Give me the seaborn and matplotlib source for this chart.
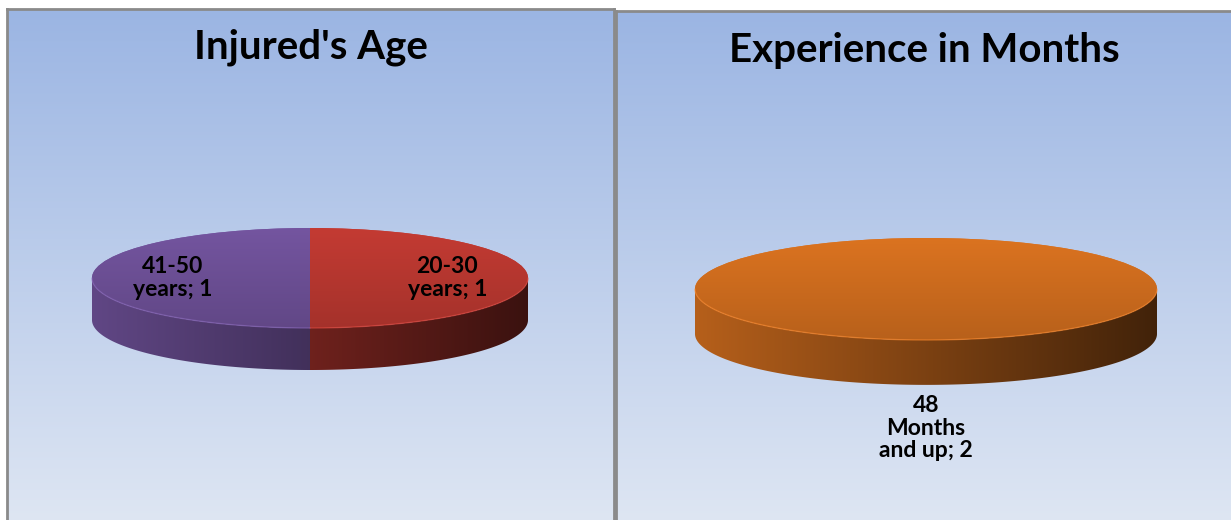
import numpy as np
import matplotlib
matplotlib.use('Agg')
import matplotlib.pyplot as plt
import seaborn as sns
from matplotlib.patches import Polygon
from matplotlib.colors import to_rgb

# ---- data ----
age_labels = ["20-30\nyears; 1", "41-50\nyears; 1"]
age_values = [1, 1]
age_colors = ["#C43B33", "#7455A0"]

exp_labels = ["48\nMonths\nand up; 2"]
exp_values = [2]
exp_colors = ["#DB7320"]

titles = ["Injured's Age", "Experience in Months"]

sns.set_theme(style="white")
plt.rcParams['font.family'] = ['Lato', 'DejaVu Sans']

W, H = 1231, 520
fig = plt.figure(figsize=(W / 100, H / 100), dpi=100)
fig.patch.set_facecolor('white')

bg_top = np.array(to_rgb('#9BB5E3'))
bg_bot = np.array(to_rgb('#DEE6F3'))


def px_axes(x0, y0, x1, y1):
    return fig.add_axes([x0 / W, 1 - y1 / H, (x1 - x0) / W, (y1 - y0) / H])


def draw_panel(rect, center, rx, ry, depth, values, labels, colors, title,
               labeldistance, title_y):
    x0, y0, x1, y1 = rect
    ax = px_axes(*rect)
    cx, cy = center
    xlim = (-(cx - x0) / rx, (x1 - cx) / rx)
    ylim = (-(y1 - cy) / ry, (cy - y0) / ry)

    wedges, texts = ax.pie(values, labels=labels, colors=colors, startangle=90,
                           counterclock=False, labeldistance=labeldistance,
                           wedgeprops=dict(linewidth=0, zorder=3),
                           textprops=dict(fontsize=16.5, fontweight='bold',
                                          color='black', zorder=8))
    ax.set_aspect('auto')
    ax.set_xlim(*xlim)
    ax.set_ylim(*ylim)
    ax.set_frame_on(True)
    ax.set_xticks([])
    ax.set_yticks([])

    # background gradient
    g = np.linspace(0, 1, 256)[:, None, None]
    img = bg_top * (1 - g) + bg_bot * g
    ax.imshow(img, extent=(xlim[0], xlim[1], ylim[0], ylim[1]), aspect='auto',
              zorder=0, origin='upper', interpolation='bilinear')

    for w, col in zip(wedges, colors):
        base = np.array(to_rgb(col))
        # top surface, vertical shading
        f = np.linspace(1.0, 0.84, 256)[:, None, None]
        timg = np.clip(base * f, 0, 1)
        im = ax.imshow(timg, extent=(-1, 1, -1, 1), aspect='auto', zorder=4,
                       origin='upper', interpolation='bilinear')
        im.set_clip_path(w)
        # side band (front-facing part)
        t1, t2 = w.theta1, w.theta2
        for k in range(-2, 3):
            a = max(t1, 360 * k - 180)
            b = min(t2, 360 * k)
            if b <= a:
                continue
            t = np.radians(np.linspace(a, b, 200))
            top = np.column_stack([np.cos(t), np.sin(t)])
            bot = np.column_stack([np.cos(t), np.sin(t) - depth])
            poly = Polygon(np.vstack([top, bot[::-1]]), closed=True,
                           facecolor='none', edgecolor='none', zorder=2)
            ax.add_patch(poly)
            fx = np.linspace(0.83, 0.30, 256)[None, :, None]
            simg = np.clip(base * fx, 0, 1)
            sim = ax.imshow(simg, extent=(-1, 1, -1 - depth, 0), aspect='auto',
                            zorder=2, origin='upper', interpolation='bilinear')
            sim.set_clip_path(poly)
            # light rim on the top's front edge
            hl = np.clip(base * 1.1 + 0.04, 0, 1)
            ax.plot(np.cos(t), np.sin(t), color=hl, lw=1.0, alpha=0.55, zorder=5)

    for tx in texts:
        tx.set_ha('center')
        tx.set_va('center')
        tx.set_multialignment('center')
        tx.set_linespacing(1.1)

    ax.text(0.5, title_y, title, transform=ax.transAxes, ha='center', va='center',
            fontsize=29, fontweight='bold', color='black', zorder=9)

    for side, sp in ax.spines.items():
        sp.set_color('#8A8A8A')
        sp.set_linewidth(2)
        sp.set_zorder(10)
    ax.spines['bottom'].set_visible(False)
    return ax


draw_panel((7, 9, 614, 522), (310, 278), 218, 50, 0.84,
           age_values, age_labels, age_colors, titles[0], 0.63, 0.925)
draw_panel((616, 11, 1233, 522), (926, 289), 231, 51, 0.88,
           exp_values, exp_labels, exp_colors, titles[1], 2.73, 0.923)

fig.savefig('out.png', dpi=100, facecolor='white')
